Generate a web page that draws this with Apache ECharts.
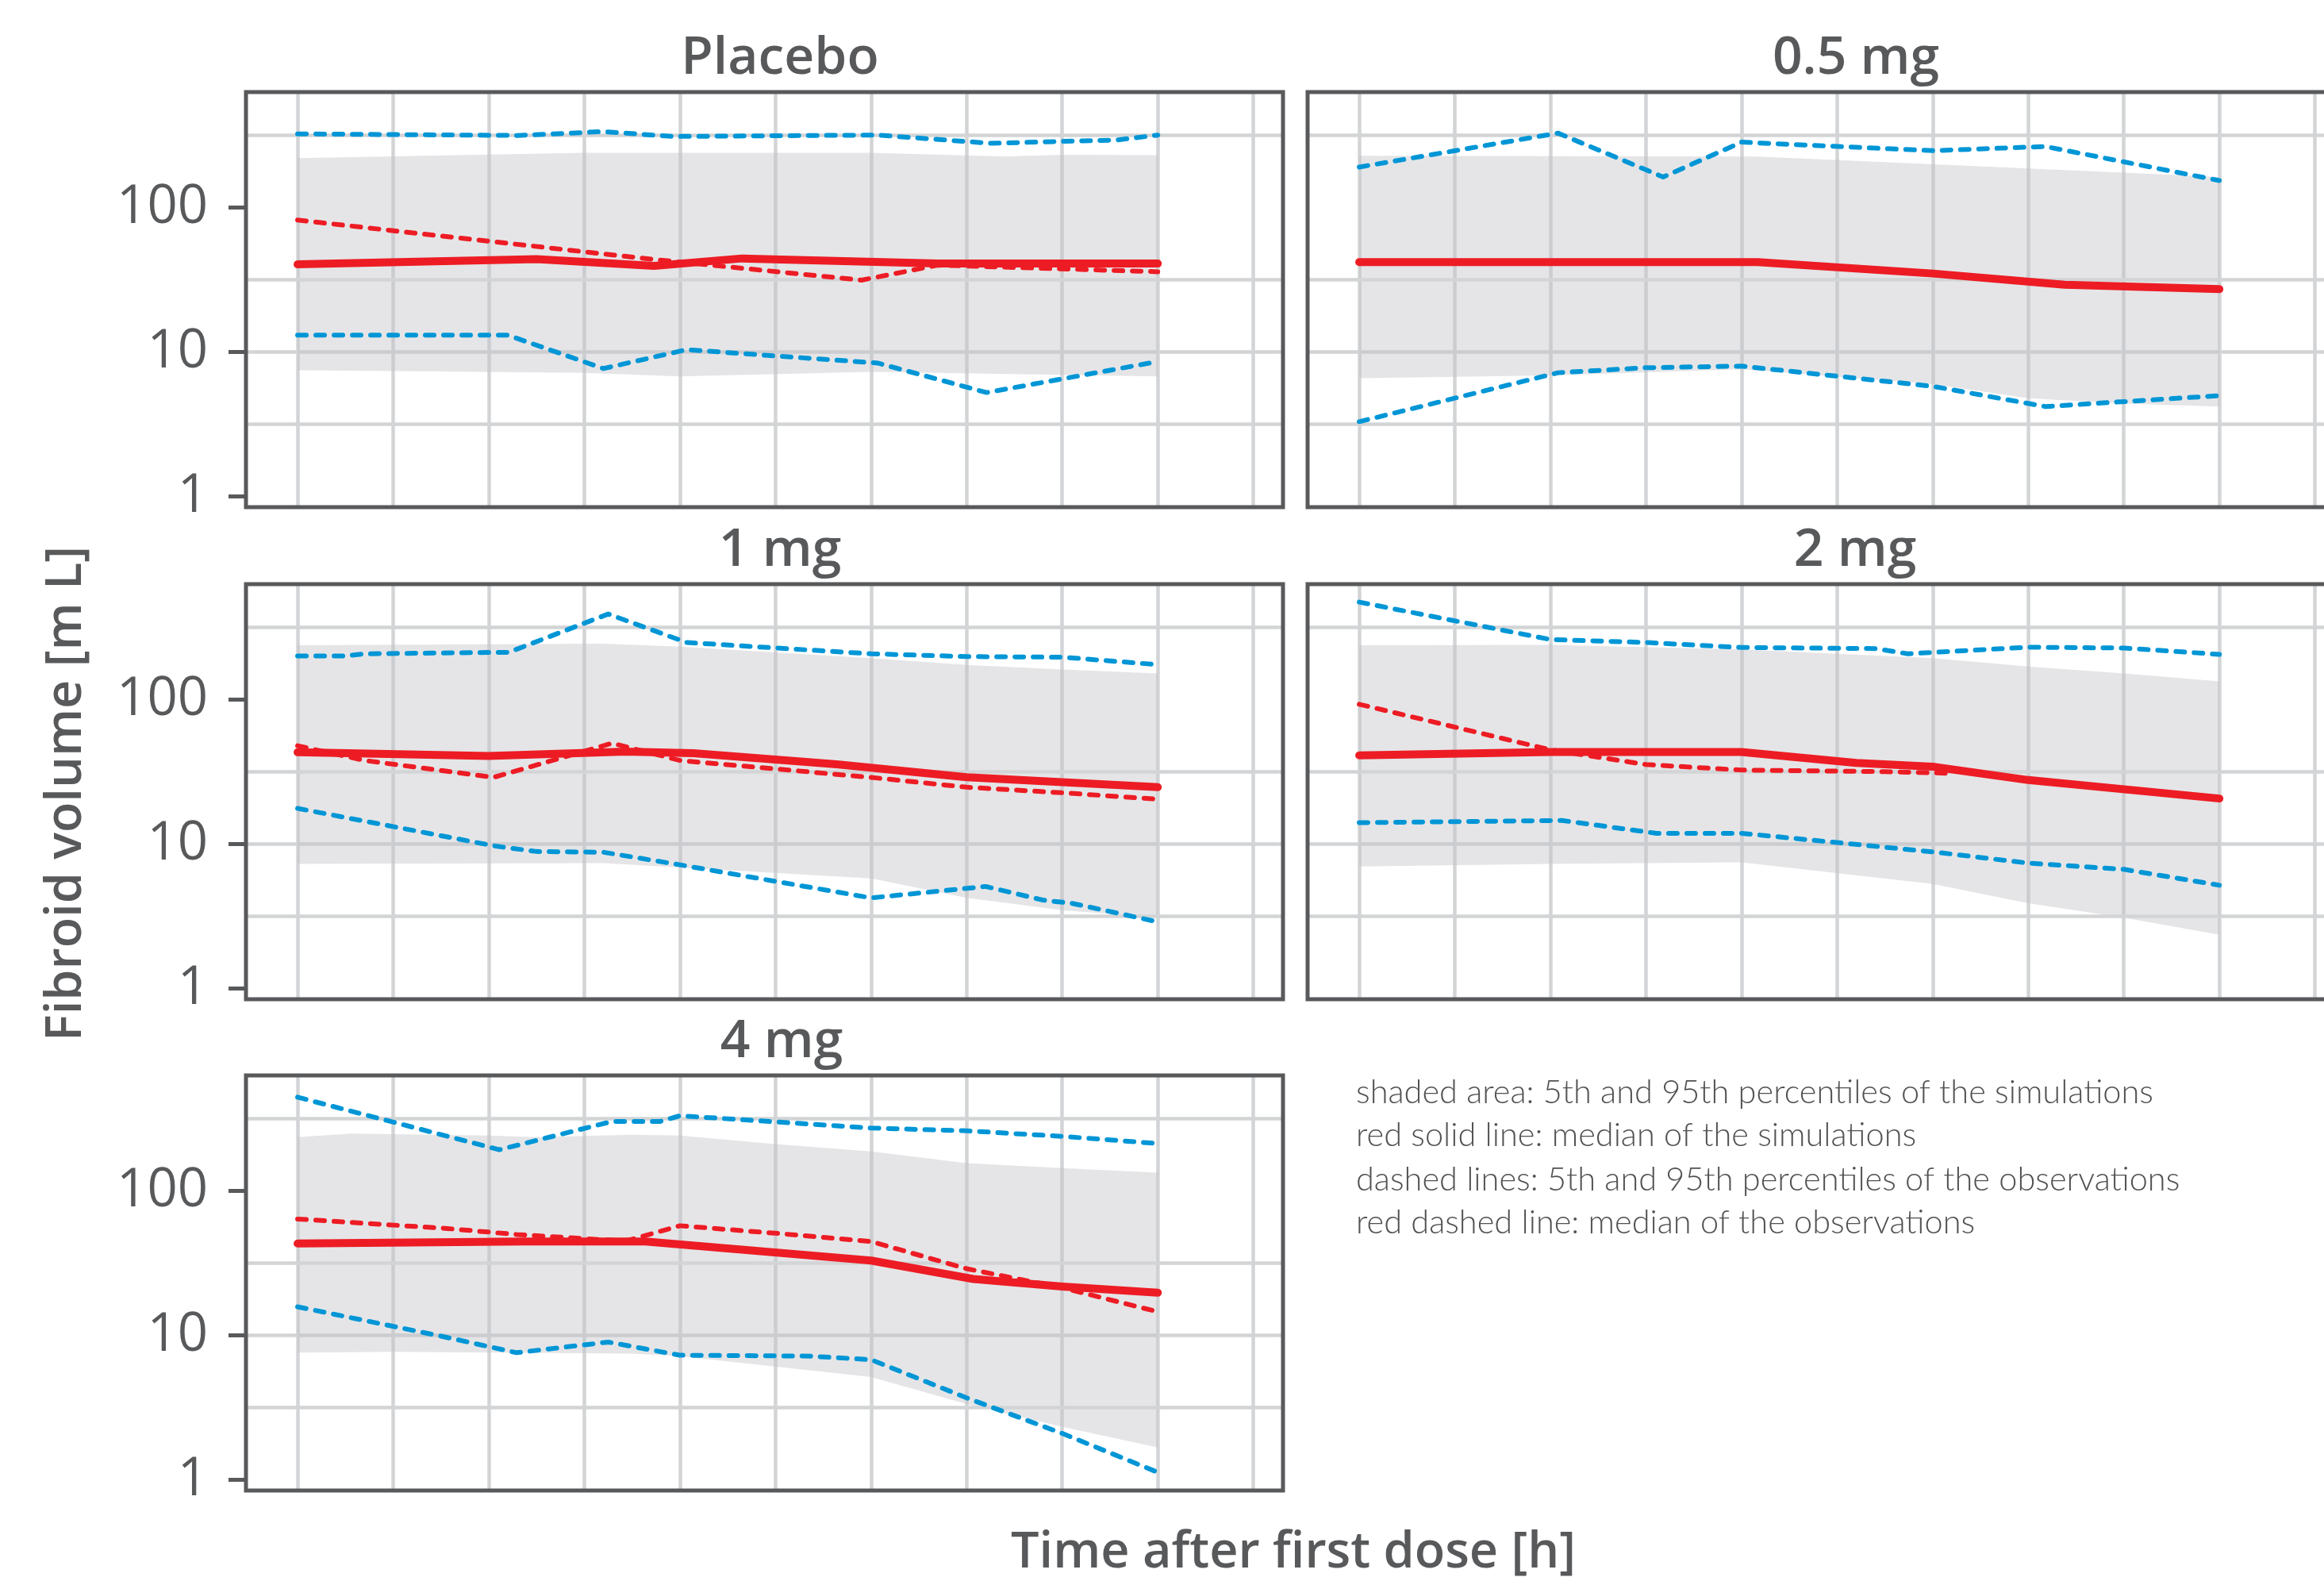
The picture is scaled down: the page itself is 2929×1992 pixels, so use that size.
<!DOCTYPE html>
<html>
<head>
<meta charset="utf-8">
<title>Fibroid volume VPC</title>
<script src="https://cdn.jsdelivr.net/npm/echarts@6/dist/echarts.min.js"></script>
<style>
  html, body { margin: 0; padding: 0; background: #fff; }
  #main { width: 2929px; height: 1992px; }
</style>
</head>
<body>
<div id="main"></div>
<script>
// axis ranges (time in grid units, volume in mL on log scale)
var X_MIN = -0.54, X_MAX = 10.31;
var Y_MIN = 0.845, Y_MAX = 631;
var yTicks = [1, 10, 100];
var yHalfDecades = [3.162, 31.62, 316.2];

var panelNames = ['Placebo', '0.5 mg', '1 mg', '2 mg', '4 mg'];

// Placebo
var placeboSimHi  = [[0, 220], [3, 240], [6, 240], [7.4, 226], [8, 232], [9, 231]];
var placeboSimLo  = [[0, 7.5], [1, 7.4], [3, 7.2], [4, 6.8], [6, 7.3], [9, 6.8]];
var placeboSimMed = [[0, 40.5], [2.5, 44], [3.73, 39.5], [4.65, 44.5], [6.7, 41], [9, 41]];
var placeboObsHi  = [[0, 324], [2.3, 316], [3.2, 336], [3.93, 311], [6.07, 318], [7.25, 279], [8.57, 294], [9, 318]];
var placeboObsLo  = [[0, 13.1], [2.2, 13.1], [3.2, 7.7], [4.07, 10.4], [6.07, 8.4], [7.21, 5.25], [9, 8.6]];
var placeboObsMed = [[0, 82], [3.7, 44], [5.9, 31.5], [6.7, 40], [9, 36]];

// 0.5 mg
var mg05SimHi  = [[0, 229], [4.17, 226], [7, 187], [8, 175], [9, 163]];
var mg05SimLo  = [[0, 6.6], [2, 6.9], [4, 7.6], [6, 6.0], [7, 4.8], [8, 4.4], [9, 4.2]];
var mg05SimMed = [[0, 42], [4.17, 42], [6, 35], [7.38, 29.3], [9, 27.3]];
var mg05ObsHi  = [[0, 191], [2.08, 328], [3.18, 163], [4, 284], [6, 248], [7.18, 265], [9, 154]];
var mg05ObsLo  = [[0, 3.3], [2.08, 7.2], [3, 7.8], [4, 8.0], [6, 5.8], [7.18, 4.2], [9, 5.0]];
var mg05ObsMed = [];

// 1 mg
var mg1SimHi  = [[0, 238], [3.2, 244], [4, 233], [6, 194], [7, 174], [8, 162], [9, 152]];
var mg1SimLo  = [[0, 7.3], [3.2, 7.4], [6, 5.8], [7, 4.25], [8, 3.5], [9, 3.1]];
var mg1SimMed = [[0, 43.3], [2, 40.8], [3.43, 43.7], [4.14, 42.7], [5.64, 35.7], [7, 29.1], [9, 24.8]];
var mg1ObsHi  = [[0, 201], [0.5, 201], [0.71, 208], [2.21, 213], [3.25, 392], [4.07, 249], [6, 208], [7, 199], [8, 197], [9, 175]];
var mg1ObsLo  = [[0, 17.7], [2.07, 9.7], [2.5, 8.9], [3.2, 8.8], [4, 7.2], [6, 4.25], [7.2, 5.1], [7.8, 4.1], [8.1, 3.9], [9, 2.9]];
var mg1ObsMed = [[0, 48], [0.7, 38], [2.05, 29], [3.29, 50], [4, 38], [6, 29], [7, 24.8], [8, 22.7], [9, 20.5]];

// 2 mg
var mg2SimHi  = [[0, 238], [2, 240], [4, 223], [6, 194], [7, 170], [8, 152], [9, 134]];
var mg2SimLo  = [[0, 7.0], [2, 7.3], [4, 7.5], [6, 5.3], [7, 3.9], [8, 3.1], [9, 2.36]];
var mg2SimMed = [[0, 41.2], [2, 43.5], [4, 43.5], [5.2, 36.5], [6, 34.4], [7, 27.8], [9, 20.7]];
var mg2ObsHi  = [[0, 474], [2, 261], [3, 249], [4, 230], [5.4, 226], [5.74, 208], [7, 231], [8, 228], [9, 206]];
var mg2ObsLo  = [[0, 14.1], [2.12, 14.6], [3.11, 11.9], [4, 11.9], [6, 8.85], [7, 7.4], [8, 6.7], [9, 5.2]];
var mg2ObsMed = [[0, 93], [2, 45], [3, 35.6], [4, 32.6], [5.5, 31.8], [6.15, 31]];

// 4 mg
var mg4SimHi  = [[0, 236], [0.57, 250], [2, 242], [2.5, 236], [3.5, 245], [4, 242], [5, 211], [6, 188], [7, 156], [8, 144], [9, 134]];
var mg4SimLo  = [[0, 7.6], [1, 7.7], [3.5, 7.5], [4, 7.2], [6, 5.15], [7, 3.35], [8, 2.33], [9, 1.68]];
var mg4SimMed = [[0, 43.3], [2.36, 44.7], [3.64, 44.7], [6, 33], [7.07, 24.6], [8, 21.8], [9, 19.8]];
var mg4ObsHi  = [[0, 446], [2.11, 193], [3.29, 303], [3.79, 303], [4, 332], [6, 273], [7, 261], [8, 239], [9, 213]];
var mg4ObsLo  = [[0, 15.8], [1.5, 9.9], [2.29, 7.6], [3.25, 9.0], [4, 7.3], [5.36, 7.2], [6, 6.8], [7, 3.7], [8, 2.1], [9, 1.13]];
var mg4ObsMed = [[0, 64], [1.57, 55], [2.29, 50], [3.43, 45], [4, 57.5], [5, 51], [6, 44.7], [7, 29], [8, 21.4], [9, 14.6]];

var legendLines = [
    'shaded area: 5th and 95th percentiles of the simulations',
    'red solid line: median of the simulations',
    'dashed lines: 5th and 95th percentiles of the observations',
    'red dashed line: median of the observations'
];

var panels = [
    { simHi: placeboSimHi, simLo: placeboSimLo, simMed: placeboSimMed, obsHi: placeboObsHi, obsLo: placeboObsLo, obsMed: placeboObsMed },
    { simHi: mg05SimHi, simLo: mg05SimLo, simMed: mg05SimMed, obsHi: mg05ObsHi, obsLo: mg05ObsLo, obsMed: mg05ObsMed },
    { simHi: mg1SimHi, simLo: mg1SimLo, simMed: mg1SimMed, obsHi: mg1ObsHi, obsLo: mg1ObsLo, obsMed: mg1ObsMed },
    { simHi: mg2SimHi, simLo: mg2SimLo, simMed: mg2SimMed, obsHi: mg2ObsHi, obsLo: mg2ObsLo, obsMed: mg2ObsMed },
    { simHi: mg4SimHi, simLo: mg4SimLo, simMed: mg4SimMed, obsHi: mg4ObsHi, obsLo: mg4ObsLo, obsMed: mg4ObsMed }
];

// layout of the facets (right column runs off the canvas, as in the original)
var layout = [
    { left: 310,  top: 116,  tx: 983,  ty: 74,   axis: true },
    { left: 1648, top: 116,  tx: 2339, ty: 74,   axis: false },
    { left: 310,  top: 736,  tx: 983,  ty: 694,  axis: true },
    { left: 1648, top: 736,  tx: 2338, ty: 694,  axis: false },
    { left: 310,  top: 1355, tx: 985,  ty: 1313, axis: true }
];
var PANEL_W = 1307, PANEL_H = 523;

var INK = '#58595b', RED = '#ed1c24', BLUE = '#0096d6', GRIDC = '#d3d4d6';
var BAND = 'rgba(192,194,198,0.42)';
var FONT = '"Open Sans", Lato, sans-serif';

var chart = echarts.init(document.getElementById('main'), null, { renderer: 'canvas' });

var grids = [], xAxes = [], yAxes = [], series = [], graphics = [];

function bandSeries(i, hi, lo) {
    return {
        type: 'custom', xAxisIndex: i, yAxisIndex: i, z: 1, silent: true,
        data: [hi[0]],
        renderItem: function (params, api) {
            var pts = hi.map(function (p) { return api.coord(p); });
            lo.slice().reverse().forEach(function (p) { pts.push(api.coord(p)); });
            return { type: 'polygon', shape: { points: pts }, style: { fill: BAND } };
        },
        markLine: {
            silent: true, symbol: 'none', animation: false,
            label: { show: false },
            lineStyle: { color: GRIDC, width: 4.5, type: 'solid' },
            data: yHalfDecades.map(function (v) { return { yAxis: v }; })
        }
    };
}

function lineSeries(i, data, color, width, dashed) {
    return {
        type: 'line', xAxisIndex: i, yAxisIndex: i, data: data, z: 10,
        symbol: 'none', silent: true,
        lineStyle: {
            color: color, width: width,
            type: dashed ? [11, 12] : 'solid',
            cap: 'round', join: 'round'
        }
    };
}

panels.forEach(function (p, i) {
    var L = layout[i];
    grids.push({
        left: L.left, top: L.top, width: PANEL_W, height: PANEL_H,
        outerBoundsMode: 'none', containLabel: false,
        show: true, borderColor: INK, borderWidth: 5, backgroundColor: 'transparent', z: 20
    });
    xAxes.push({
        gridIndex: i, type: 'value', min: X_MIN, max: X_MAX, splitNumber: 10,
        axisLine: { show: false, onZero: false }, axisTick: { show: false }, axisLabel: { show: false },
        splitLine: { show: true, showMinLine: false, showMaxLine: false, lineStyle: { color: GRIDC, width: 4.5 } }
    });
    yAxes.push({
        gridIndex: i, type: 'log', logBase: 10, min: Y_MIN, max: Y_MAX,
        axisLine: { show: false, onZero: false },
        axisTick: { show: L.axis, length: 22, customValues: yTicks, lineStyle: { color: INK, width: 5 } },
        axisLabel: {
            show: L.axis, customValues: yTicks, margin: 48,
            fontFamily: FONT, fontSize: 67, fontWeight: 500, color: INK
        },
        splitLine: { show: true, showMinLine: false, showMaxLine: false, lineStyle: { color: GRIDC, width: 4.5 } }
    });

    series.push(bandSeries(i, p.simHi, p.simLo));
    series.push(lineSeries(i, p.simMed, RED, 10, false));
    if (p.obsMed.length) series.push(lineSeries(i, p.obsMed, RED, 6, true));
    series.push(lineSeries(i, p.obsHi, BLUE, 6, true));
    series.push(lineSeries(i, p.obsLo, BLUE, 6, true));

    graphics.push({
        type: 'text', x: L.tx, y: L.ty, silent: true,
        style: { text: panelNames[i], font: '600 66px ' + FONT, fill: INK,
                 textAlign: 'center', textVerticalAlign: 'middle', align: 'center', verticalAlign: 'middle' }
    });
});

graphics.push({
    type: 'text', x: 84, y: 1000, rotation: Math.PI / 2, silent: true,
    style: { text: 'Fibroid volume [m L]', font: '600 63px ' + FONT, fill: INK,
             textAlign: 'center', textVerticalAlign: 'middle', align: 'center', verticalAlign: 'middle' }
});
graphics.push({
    type: 'text', x: 1630, y: 1957, silent: true,
    style: { text: 'Time after first dose [h]', font: '600 63px ' + FONT, fill: INK,
             textAlign: 'center', textVerticalAlign: 'middle', align: 'center', verticalAlign: 'middle' }
});
var legendY = [1377, 1431, 1487, 1541];
legendLines.forEach(function (t, k) {
    graphics.push({
        type: 'text', x: 1709, y: legendY[k], silent: true,
        style: { text: t, font: '300 41.5px Lato, sans-serif', fill: '#505153',
                 textAlign: 'left', textVerticalAlign: 'middle', align: 'left', verticalAlign: 'middle' }
    });
});

chart.setOption({
    animation: false,
    backgroundColor: '#ffffff',
    grid: grids,
    xAxis: xAxes,
    yAxis: yAxes,
    series: series,
    graphic: graphics
});
</script>
</body>
</html>
